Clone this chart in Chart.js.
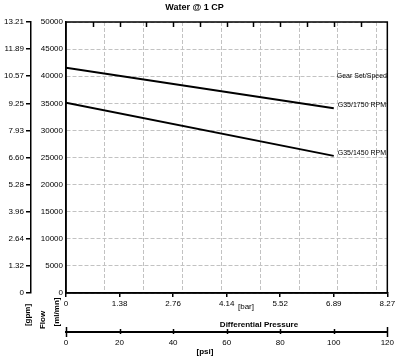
<!DOCTYPE html>
<html>
<head>
<meta charset="utf-8">
<script src="https://cdn.jsdelivr.net/npm/chart.js@4.4.1/dist/chart.umd.min.js"></script>
<style>
  html, body { margin: 0; padding: 0; background: #fff; }
  #wrap { width: 400px; height: 364px; }
</style>
</head>
<body>
<div id="wrap"><canvas id="chart"></canvas></div>
<script>
// differential pressure in psi, flow in ml/min
const PSI = [0, 100];
const RPM_1750 = [41550, 34100];
const RPM_1450 = [35100, 25300];
const SERIES_LABELS = ['G35/1750 RPM', 'G35/1450 RPM'];
const LEGEND_TITLE = 'Gear Set/Speed';

const FLOW_TICKS = [0, 5000, 10000, 15000, 20000, 25000, 30000, 35000, 40000, 45000, 50000];
const GPM_LABELS = ['0', '1.32', '2.64', '3.96', '5.28', '6.60', '7.93', '9.25', '10.57', '11.89', '13.21'];
const PSI_TICKS = [0, 20, 40, 60, 80, 100, 120];
const BAR_LABELS = ['0', '1.38', '2.76', '4.14', '5.52', '6.89', '8.27'];
const BAR_GRID = [1, 2, 3, 4, 5, 6, 7, 8];
const PSI_PER_BAR = 14.5038;

const FONT = "'Liberation Sans', Arial, Helvetica, sans-serif";
const tickFont = { family: FONT, size: 8 };
const GRID = '#c2c2c2';

const setTicks = values => scale => { scale.ticks = values.map(v => ({ value: v })); };

const decor = {
  id: 'decor',
  afterDraw(chart) {
    const { ctx, chartArea: a, scales } = chart;
    const x = scales.x, psi = scales.psi;
    ctx.save();

    // plot frame
    ctx.strokeStyle = '#000';
    ctx.lineWidth = 1.5;
    ctx.strokeRect(a.left, a.top, a.right - a.left, a.bottom - a.top);

    // small inward ticks along the top, every 10 psi
    for (let v = 10; v < 120; v += 10) {
      const px = Math.round(x.getPixelForValue(v)) + 0.5;
      ctx.beginPath();
      ctx.moveTo(px, a.top);
      ctx.lineTo(px, a.top + 5);
      ctx.stroke();
    }

    // psi axis ticks
    const ly = psi.top;
    PSI_TICKS.forEach((v, i) => {
      const px = Math.round(psi.getPixelForValue(v)) + 0.5;
      const end = i === 0 || i === PSI_TICKS.length - 1;
      ctx.beginPath();
      ctx.moveTo(px, ly - (end ? 5 : 3));
      ctx.lineTo(px, ly + (end ? 5 : 2));
      ctx.stroke();
    });

    // series labels at the end of each line
    ctx.fillStyle = '#000';
    ctx.font = `7px ${FONT}`;
    ctx.textAlign = 'left';
    ctx.textBaseline = 'middle';
    const ends = chart.data.datasets.map((d, i) => chart.getDatasetMeta(i).data[d.data.length - 1]);
    ends.forEach((pt, i) => ctx.fillText(SERIES_LABELS[i], pt.x + 4, pt.y - 3));
    ctx.fillText(LEGEND_TITLE, ends[0].x + 3, ends[0].y - 32);

    // axis titles
    ctx.textAlign = 'center';
    ctx.font = `8px ${FONT}`;
    ctx.fillText('[bar]', 246, 307);
    ctx.font = `bold 8px ${FONT}`;
    ctx.fillText('Differential Pressure', 259, 325);
    ctx.fillText('[psi]', 205, 352);

    const vText = (t, px, py) => {
      ctx.save();
      ctx.translate(px, py);
      ctx.rotate(-Math.PI / 2);
      ctx.fillText(t, 0, 0);
      ctx.restore();
    };
    vText('[gpm]', 28, 315);
    vText('Flow', 43, 320);
    vText('[ml/mn]', 57, 312);

    ctx.restore();
  }
};

new Chart(document.getElementById('chart'), {
  type: 'line',
  data: {
    datasets: [
      {
        label: SERIES_LABELS[0],
        data: PSI.map((p, i) => ({ x: p, y: RPM_1750[i] })),
        borderColor: '#000',
        borderWidth: 2,
        pointRadius: 0,
        fill: false
      },
      {
        label: SERIES_LABELS[1],
        data: PSI.map((p, i) => ({ x: p, y: RPM_1450[i] })),
        borderColor: '#000',
        borderWidth: 2,
        pointRadius: 0,
        fill: false
      }
    ]
  },
  options: {
    responsive: true,
    maintainAspectRatio: false,
    animation: false,
    layout: { padding: { left: 0, right: 11, top: 0, bottom: 0 } },
    plugins: {
      legend: { display: false },
      tooltip: { enabled: false },
      title: {
        display: true,
        text: 'Water @ 1 CP',
        color: '#000',
        font: { family: FONT, size: 9, weight: 'bold' },
        padding: { top: 2, bottom: 9.2 }
      }
    },
    scales: {
      x: {
        type: 'linear',
        position: 'bottom',
        min: 0,
        max: 120,
        afterBuildTicks: setTicks(PSI_TICKS),
        ticks: { callback: (v, i) => BAR_LABELS[i], font: tickFont, color: '#000', padding: 2, maxRotation: 0, autoSkip: false },
        grid: { drawOnChartArea: false, tickLength: 4, color: '#000', lineWidth: 1.5 },
        border: { color: '#000', width: 1.5 },
        afterFit: s => { s.height = 39; }
      },
      psi: {
        type: 'linear',
        position: 'bottom',
        weight: 1,
        min: 0,
        max: 120,
        afterBuildTicks: setTicks(PSI_TICKS),
        ticks: { callback: v => String(v), font: tickFont, color: '#000', padding: 6, maxRotation: 0, autoSkip: false },
        grid: { drawOnChartArea: false, drawTicks: false },
        border: { color: '#000', width: 2 },
        afterFit: s => { s.height = 32; }
      },
      barGrid: {
        type: 'linear',
        position: 'top',
        min: 0,
        max: 120 / PSI_PER_BAR,
        afterBuildTicks: setTicks(BAR_GRID),
        ticks: { display: false },
        grid: { color: GRID, lineWidth: 1, drawTicks: false },
        border: { display: false, dash: [4, 2] },
        afterFit: s => { s.height = 0; }
      },
      y: {
        type: 'linear',
        position: 'left',
        min: 0,
        max: 50000,
        afterBuildTicks: setTicks(FLOW_TICKS),
        ticks: { callback: v => String(v), font: tickFont, color: '#000', padding: 3, autoSkip: false },
        grid: { color: GRID, lineWidth: 1, drawTicks: false },
        border: { color: '#000', width: 1.5, dash: [4, 2] },
        afterFit: s => { s.width = 35; }
      },
      gpm: {
        type: 'linear',
        position: 'left',
        weight: 1,
        min: 0,
        max: 50000,
        afterBuildTicks: setTicks(FLOW_TICKS),
        ticks: { callback: (v, i) => GPM_LABELS[i], font: tickFont, color: '#000', padding: 2, autoSkip: false },
        grid: { drawOnChartArea: false, tickLength: 5, color: '#000', lineWidth: 1.5 },
        border: { color: '#000', width: 1.5 },
        afterFit: s => { s.width = 31; }
      }
    }
  },
  plugins: [decor]
});
</script>
</body>
</html>
